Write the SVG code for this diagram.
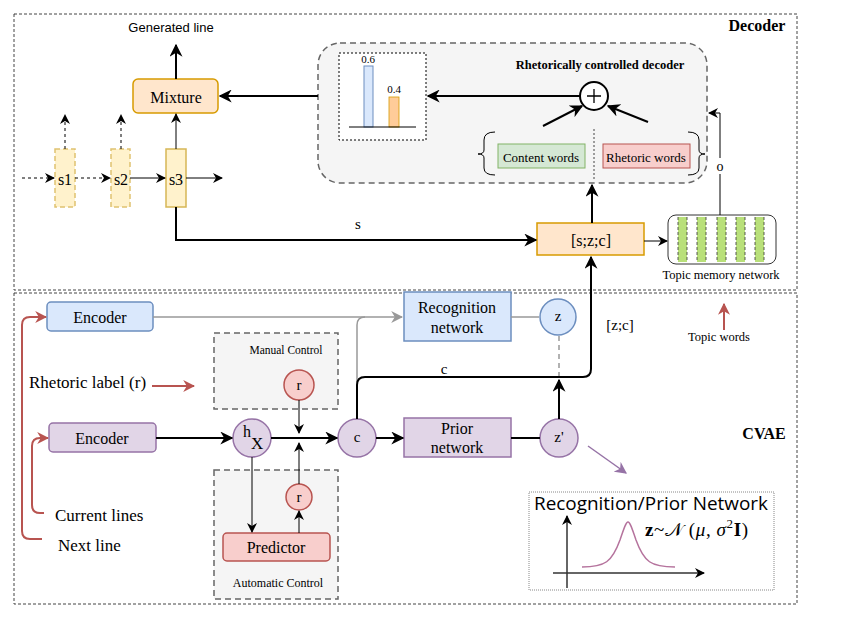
<svg xmlns="http://www.w3.org/2000/svg" width="850" height="619" viewBox="0 0 850 619">
<defs>
<marker id="ar" viewBox="0 0 10 10" refX="9" refY="5" markerWidth="10" markerHeight="10" markerUnits="userSpaceOnUse" orient="auto"><path d="M0,0 L10,5 L0,10 L3,5 z" fill="#000"/></marker>
<marker id="arL" viewBox="0 0 10 10" refX="9" refY="5" markerWidth="13" markerHeight="13" markerUnits="userSpaceOnUse" orient="auto"><path d="M0,0 L10,5 L0,10 L3,5 z" fill="#000"/></marker>
<marker id="arG" viewBox="0 0 10 10" refX="9" refY="5" markerWidth="12" markerHeight="12" markerUnits="userSpaceOnUse" orient="auto"><path d="M0,0 L10,5 L0,10 L3,5 z" fill="#999"/></marker>
<marker id="arR" viewBox="0 0 10 10" refX="9" refY="5" markerWidth="12" markerHeight="12" markerUnits="userSpaceOnUse" orient="auto"><path d="M0,0 L10,5 L0,10 L3,5 z" fill="#b85450"/></marker>
<marker id="arP" viewBox="0 0 10 10" refX="9" refY="5" markerWidth="12" markerHeight="12" markerUnits="userSpaceOnUse" orient="auto"><path d="M0,0 L10,5 L0,10 L3,5 z" fill="#9673a6"/></marker>
</defs>
<style>
.t{font-family:"Liberation Serif",serif;fill:#000;text-anchor:middle;dominant-baseline:central}
.l{font-family:"Liberation Serif",serif;fill:#000;text-anchor:start;dominant-baseline:central}
.s{font-family:"Liberation Sans",sans-serif;fill:#000;text-anchor:middle;dominant-baseline:central}
.frame{fill:none;stroke:#444;stroke-width:1;stroke-dasharray:3 2}
.orange{fill:#ffe6cc;stroke:#d79b00;stroke-width:1.5}
.yel{fill:#fff2cc;stroke:#d6b656;stroke-width:1.5}
.blue{fill:#dae8fc;stroke:#6c8ebf;stroke-width:1.5}
.purple{fill:#e1d5e7;stroke:#9673a6;stroke-width:1.5}
.red{fill:#f8cecc;stroke:#b85450;stroke-width:1.5}
.green{fill:#d5e8d4;stroke:#82b366;stroke-width:1}
.k{fill:none;stroke:#000;stroke-width:2}
.k1{fill:none;stroke:#000;stroke-width:1}
</style>

<!-- frames -->
<g id="decoder-frame">
<rect class="frame" x="14" y="14" width="783" height="276"/>
<text class="t" x="757" y="25" font-size="16" font-weight="bold">Decoder</text>
</g>
<g id="cvae-frame">
<rect class="frame" x="14" y="293" width="783" height="311"/>
<text class="t" x="764" y="433" font-size="16" font-weight="bold">CVAE</text>
</g>

<g id="generated-line"><text class="s" x="171" y="27" font-size="13">Generated line</text></g>

<g id="mixture">
<rect class="orange" x="133" y="79" width="85" height="34" rx="5"/>
<text class="t" x="176" y="97" font-size="16">Mixture</text>
</g>
<g id="s1">
<rect x="55" y="149" width="20" height="58" fill="#fff2cc" stroke="#e0c270" stroke-width="1.5" stroke-dasharray="5 3"/>
<text class="t" x="65" y="179" font-size="16">s1</text>
</g>
<g id="s2">
<rect x="111" y="149" width="19" height="58" fill="#fff2cc" stroke="#e0c270" stroke-width="1.5" stroke-dasharray="5 3"/>
<text class="t" x="121" y="179" font-size="16">s2</text>
</g>
<g id="s3">
<rect class="yel" x="166" y="149" width="20" height="58"/>
<text class="t" x="176" y="179" font-size="16">s3</text>
</g>
<g id="s-label"><text class="t" x="358" y="224" font-size="15">s</text></g>

<g id="rhetorical-decoder">
<rect x="318" y="43" width="389" height="140" rx="22" fill="#f5f5f5" stroke="#666" stroke-width="1.5" stroke-dasharray="6 4"/>
<text class="t" x="600" y="65" font-size="12.5" font-weight="bold">Rhetorically controlled decoder</text>
</g>
<g id="bar-chart">
<rect x="339" y="53" width="87" height="87" fill="#fff" stroke="#000" stroke-width="1" stroke-dasharray="2 2"/>
<rect x="364" y="66" width="9" height="61" fill="#dae8fc" stroke="#6c8ebf"/>
<rect x="389" y="97" width="10" height="30" fill="#ffcc99" stroke="#d79b00" stroke-width="0.8"/>
<path d="M349,127 H416" stroke="#000" stroke-width="1"/>
<text class="t" x="368" y="59" font-size="11">0.6</text>
<text class="t" x="394" y="89" font-size="11">0.4</text>
</g>
<g id="plus">
<circle cx="594" cy="96" r="14" fill="#fff" stroke="#000" stroke-width="2"/>
<path d="M594,89 V103 M587,96 H601" stroke="#000" stroke-width="1.3"/>
</g>
<g id="word-sets">
<path d="M495,132 Q484,132 484,140 V150 Q484,154 478,154 Q484,154 484,158 V168 Q484,175 495,175" fill="none" stroke="#000" stroke-width="1"/>
<path d="M688,132 Q699,132 699,140 V150 Q699,154 705,154 Q699,154 699,158 V168 Q699,175 688,175" fill="none" stroke="#000" stroke-width="1"/>
<path d="M594,129 V180" stroke="#444" stroke-width="1" stroke-dasharray="2 2"/>
</g>
<g id="content-words">
<rect class="green" x="498" y="144" width="87" height="24"/>
<text class="t" x="541" y="157" font-size="13">Content words</text>
</g>
<g id="rhetoric-words">
<rect x="603" y="144" width="87" height="24" fill="#f8cecc" stroke="#b85450" stroke-width="1"/>
<text class="t" x="646" y="157" font-size="13">Rhetoric words</text>
</g>
<g id="szc">
<rect class="orange" x="537" y="223" width="107" height="32"/>
<text class="t" x="591" y="240" font-size="16">[s;z;c]</text>
</g>
<g id="topic-memory">
<rect x="668" y="215" width="108" height="49" rx="8" fill="#fff" stroke="#333" stroke-width="1"/>
<g fill="#b9e07a">
<rect x="678" y="217" width="9" height="45"/><rect x="697" y="217" width="9" height="45"/><rect x="717" y="217" width="9" height="45"/><rect x="736" y="217" width="9" height="45"/><rect x="755" y="217" width="9" height="45"/>
</g>
<path d="M678,217V262M687,217V262M697,217V262M706,217V262M717,217V262M726,217V262M736,217V262M745,217V262M755,217V262M764,217V262" stroke="#333" stroke-width="0.8" stroke-dasharray="3 2"/>
<text class="t" x="721" y="275" font-size="12.5">Topic memory network</text>
</g>

<g id="encoder-next">
<rect class="blue" x="47" y="302" width="106" height="29" rx="4"/>
<text class="t" x="100" y="317" font-size="16">Encoder</text>
</g>
<g id="recognition-network">
<rect class="blue" x="404" y="292" width="107" height="49"/>
<text class="t" x="457" y="307" font-size="16">Recognition</text>
<text class="t" x="457" y="327" font-size="16">network</text>
</g>
<g id="z">
<circle class="blue" cx="558" cy="317" r="18"/>
<text class="t" x="558" y="316" font-size="15">z</text>
</g>
<g id="zc-label"><text class="t" x="620" y="325" font-size="15">[z;c]</text></g>
<g id="topic-words"><text class="t" x="719" y="337" font-size="12.5">Topic words</text></g>
<g id="rhetoric-label"><text class="l" x="29" y="382" font-size="17">Rhetoric label (r)</text></g>
<g id="manual-control">
<rect x="214" y="333" width="124" height="76" fill="#f5f5f5" stroke="#666" stroke-width="1.5" stroke-dasharray="6 4"/>
<text class="t" x="286" y="350" font-size="11.5">Manual Control</text>
</g>
<g id="r-manual">
<circle class="red" cx="299" cy="385" r="15"/>
<text class="t" x="299" y="385" font-size="15">r</text>
</g>
<g id="automatic-control">
<rect x="214" y="470" width="124" height="129" fill="#f5f5f5" stroke="#666" stroke-width="1.5" stroke-dasharray="6 4"/>
<text class="t" x="278" y="583" font-size="12">Automatic Control</text>
</g>
<g id="r-auto">
<circle class="red" cx="299" cy="497" r="13"/>
<text class="t" x="299" y="497" font-size="15">r</text>
</g>
<g id="predictor">
<rect class="red" x="223" y="533" width="107" height="28" rx="4"/>
<text class="t" x="276" y="547" font-size="16">Predictor</text>
</g>
<g id="c-label"><text class="t" x="444" y="369" font-size="15">c</text></g>
<g id="encoder-current">
<rect class="purple" x="49" y="423" width="107" height="29" rx="4"/>
<text class="t" x="102" y="438" font-size="16">Encoder</text>
</g>
<g id="hx">
<circle class="purple" cx="252" cy="438" r="19"/>
<text font-family="Liberation Serif,serif" font-size="16" x="243" y="437">h<tspan x="251" y="449" font-size="17">X</tspan></text>
</g>
<g id="c">
<circle class="purple" cx="357" cy="438" r="19"/>
<text class="t" x="357" y="437" font-size="15">c</text>
</g>
<g id="prior-network">
<rect class="purple" x="404" y="418" width="107" height="39"/>
<text class="t" x="457" y="428" font-size="16">Prior</text>
<text class="t" x="457" y="447" font-size="16">network</text>
</g>
<g id="z-prime">
<circle class="purple" cx="559" cy="438" r="19"/>
<text class="t" x="559" y="437" font-size="15">z'</text>
</g>
<g id="current-lines"><text class="l" x="55" y="515" font-size="17">Current lines</text></g>
<g id="next-line"><text class="l" x="58" y="545" font-size="17">Next line</text></g>

<g id="distribution">
<rect x="529" y="492" width="245" height="98" fill="#fff" stroke="#888" stroke-width="1" stroke-dasharray="1 1"/>
<text class="s" x="651" y="503" font-size="19" style="font-family:'Open Sans','Noto Sans',sans-serif" textLength="234" lengthAdjust="spacingAndGlyphs">Recognition/Prior Network</text>
<path d="M567,588 V516" stroke="#333" stroke-width="1.5" marker-end="url(#ar)"/>
<path d="M553,573 H704" stroke="#333" stroke-width="1.5" marker-end="url(#ar)"/>
<path d="M582,567 C605,567 612,562 620,540 C624,528 626,522 628,522 C630,522 632,528 636,540 C644,562 651,567 675,567" fill="none" stroke="#b5739d" stroke-width="1.5"/>
<text font-family="Liberation Serif,serif" font-size="19" x="645" y="536" textLength="103" lengthAdjust="spacing"><tspan font-weight="bold">z</tspan>~𝒩 (<tspan font-style="italic">μ</tspan>, <tspan font-style="italic">σ</tspan><tspan font-size="13" dy="-8">2</tspan><tspan font-weight="bold" dy="8">I</tspan>)</text>
</g>

<!-- connectors -->
<g id="connectors">
<path class="k" d="M176,79 V45" marker-end="url(#arL)"/>
<path class="k1" d="M22,178 H54" stroke-dasharray="3 3" marker-end="url(#ar)"/>
<path class="k1" d="M75,178 H110" stroke-dasharray="3 3" marker-end="url(#ar)"/>
<path class="k1" d="M130,178 H165" marker-end="url(#ar)"/>
<path class="k1" d="M186,178 H222" marker-end="url(#ar)"/>
<path class="k1" d="M65,149 V115" stroke-dasharray="3 3" marker-end="url(#ar)"/>
<path class="k1" d="M121,149 V115" stroke-dasharray="3 3" marker-end="url(#ar)"/>
<path class="k1" d="M176,149 V114" marker-end="url(#ar)"/>
<path class="k" d="M176,207 V240 H536" marker-end="url(#arL)"/>
<path class="k" d="M318,96 H220" marker-end="url(#arL)"/>
<path class="k" d="M580,96 H428" marker-end="url(#arL)"/>
<path class="k" d="M543,126 L582,106" marker-end="url(#arL)"/>
<path class="k" d="M648,122 L608,106" marker-end="url(#arL)"/>
<path class="k" d="M592,223 V185" marker-end="url(#arL)"/>
<path class="k1" d="M644,241 H667" marker-end="url(#ar)"/>
<path class="k1" d="M720,215 V113 H709" marker-end="url(#ar)"/>
<path d="M153,317 H402" fill="none" stroke="#999" stroke-width="1.5" marker-end="url(#arG)"/>
<path d="M357,419 V325 Q357,317 365,317" fill="none" stroke="#999" stroke-width="1.5"/>
<path d="M511,317 H539" fill="none" stroke="#999" stroke-width="1.5"/>
<path d="M559,336 V376" fill="none" stroke="#999" stroke-width="1.5" stroke-dasharray="5 4"/>
<path class="k" d="M559,419 V380" marker-end="url(#arL)"/>
<path class="k" d="M357,419 V385 Q357,377 365,377 H583 Q591,377 591,369 V257" marker-end="url(#arL)"/>
<path class="k" d="M156,438 H232" marker-end="url(#arL)"/>
<path class="k" d="M271,438 H337" marker-end="url(#arL)"/>
<path class="k" d="M376,438 H403" marker-end="url(#arL)"/>
<path class="k" d="M511,438 H540"/>
<path class="k1" d="M299,400 V433" marker-end="url(#ar)"/>
<path class="k1" d="M299,484 V443" marker-end="url(#ar)"/>
<path class="k1" d="M299,533 V511" marker-end="url(#ar)"/>
<path class="k1" d="M252,457 V532" marker-end="url(#ar)"/>
<path d="M588,446 L626,473" fill="none" stroke="#9673a6" stroke-width="1.5" marker-end="url(#arP)"/>
<path d="M152,386 H194" fill="none" stroke="#b85450" stroke-width="2" marker-end="url(#arR)"/>
<path d="M724,330 V304" fill="none" stroke="#b85450" stroke-width="2" marker-end="url(#arR)"/>
<path d="M42,539 H30 Q22,539 22,531 V325 Q22,317 30,317 H46" fill="none" stroke="#b85450" stroke-width="2" marker-end="url(#arR)"/>
<path d="M44,513 H40 Q32,513 32,505 V446 Q32,438 40,438 H48" fill="none" stroke="#b85450" stroke-width="2" marker-end="url(#arR)"/>
</g>

<g id="o-label">
<rect x="713" y="158" width="14" height="16" fill="#fff"/>
<text class="t" x="720" y="166" font-size="14">o</text>
</g>
</svg>
